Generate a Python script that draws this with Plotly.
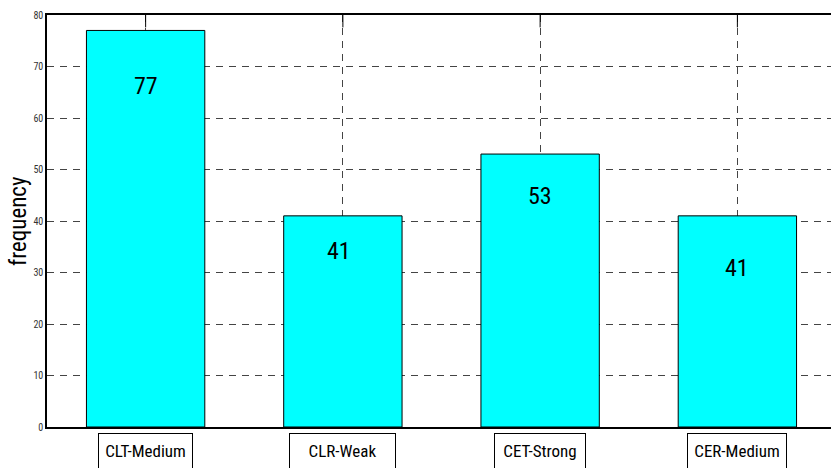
import plotly.graph_objects as go

categories = ["CLT-Medium", "CLR-Weak", "CET-Strong", "CER-Medium"]
frequency = [77, 41, 53, 41]
y_ticks = [0, 10, 20, 30, 40, 50, 60, 70, 80]

# label placement (distance of value text below bar top, in y units) - layout only
label_drop = [10.8, 6.8, 8.1, 10.1]
label_dx = [0, -0.02, 0, 0.0]
box_widths = [93, 105, 90, 98]

xpos = list(range(1, len(categories) + 1))

NARROW = "Roboto Condensed, PT Sans Narrow, Liberation Sans, Arial"

fig = go.Figure()
fig.add_trace(go.Bar(
    x=xpos, y=frequency, width=0.6,
    marker=dict(color="#00FFFF", line=dict(color="black", width=1)),
    hoverinfo="skip",
))

annotations = []
for i, (xv, v) in enumerate(zip(xpos, frequency)):
    annotations.append(dict(
        x=xv + label_dx[i], y=v - label_drop[i], xref="x", yref="y",
        text=str(v), showarrow=False,
        font=dict(family=NARROW, size=24, color="black"),
    ))
    annotations.append(dict(
        x=xv, y=0, xref="x", yref="paper", yanchor="top", yshift=-6,
        text=categories[i], showarrow=False,
        width=box_widths[i], height=34,
        bordercolor="black", borderwidth=1, borderpad=0,
        font=dict(family=NARROW, size=17, color="black"),
        valign="middle",
    ))

annotations.append(dict(
    x=-0.017, y=0.5, xref="paper", yref="paper", xanchor="right",
    text="frequency", textangle=-90, showarrow=False,
    font=dict(family=NARROW, size=23, color="black"),
))

shapes = []
for xv in xpos:
    shapes.append(dict(type="line", xref="x", yref="paper", x0=xv, x1=xv,
                       y0=1, y1=0.97, line=dict(color="black", width=1)))

fig.update_layout(
    width=836, height=468,
    margin=dict(l=47, r=0, t=15, b=41),
    paper_bgcolor="white", plot_bgcolor="white",
    showlegend=False,
    annotations=annotations,
    shapes=shapes,
    xaxis=dict(
        range=[0.5, 4.5], tickvals=xpos, showticklabels=False,
        showgrid=True, gridcolor="#444444", griddash="7px,6px", gridwidth=1,
        showline=True, linecolor="black", linewidth=1.5, mirror=True,
        ticks="", zeroline=False, fixedrange=True,
    ),
    yaxis=dict(
        range=[0, 80], tickvals=y_ticks,
        showgrid=True, gridcolor="#444444", griddash="7px,6px", gridwidth=1,
        showline=True, linecolor="black", linewidth=1.5, mirror=False,
        ticks="", zeroline=False,
        tickfont=dict(family=NARROW, size=10, color="#333333"),
        fixedrange=True,
    ),
)

fig.write_html(
    "out.html",
    config={"displayModeBar": False},
    post_script="document.body.style.margin='0';document.body.style.overflow='hidden';",
)
